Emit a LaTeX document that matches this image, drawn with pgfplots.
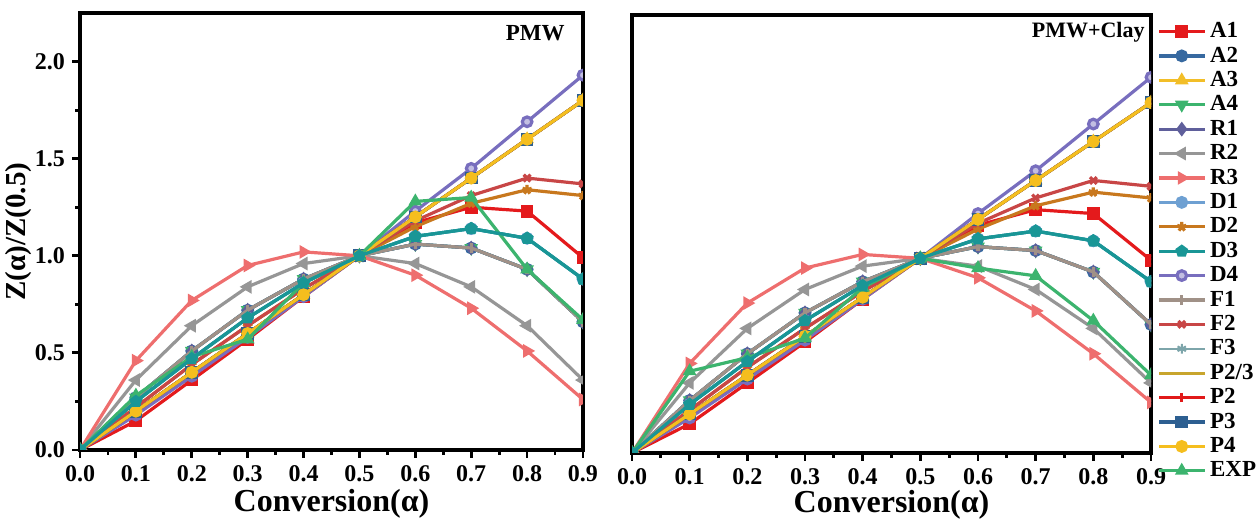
\documentclass[border=0pt]{standalone}
\usepackage{fontspec}
\setmainfont{Liberation Serif}
\usepackage{pgfplots}
\usepackage{pgfplotstable}
\pgfplotsset{compat=1.18}
\usetikzlibrary{plotmarks}

\definecolor{cA1}{RGB}{228,26,28}
\definecolor{cA2}{RGB}{55,105,160}
\definecolor{cA3}{RGB}{242,190,40}
\definecolor{cA4}{RGB}{60,180,110}
\definecolor{cR1}{RGB}{95,95,155}
\definecolor{cR2}{RGB}{150,150,150}
\definecolor{cR3}{RGB}{238,110,110}
\definecolor{cD1}{RGB}{110,160,210}
\definecolor{cD2}{RGB}{200,120,30}
\definecolor{cD3}{RGB}{25,150,150}
\definecolor{cD4}{RGB}{120,110,190}
\definecolor{cF1}{RGB}{160,145,135}
\definecolor{cF2}{RGB}{200,70,70}
\definecolor{cF3}{RGB}{125,165,170}
\definecolor{cP23}{RGB}{200,165,45}
\definecolor{cP2}{RGB}{225,25,25}
\definecolor{cP3}{RGB}{45,95,145}
\definecolor{cP4}{RGB}{245,190,30}
\definecolor{cEXP}{RGB}{60,180,110}

% theoretical master curves Z(a)/Z(0.5), same in both panels
\pgfplotstableread{
a   A1   A2   A3   A4   R1   R2   R3   D1   D2   D3   D4   F1   F2   F3   P23  P2   P3   P4
0.0 0    0    0    0    0    0    0    0    0    0    0    0    0    0    0    0    0    0
0.1 0.15 0.27 0.20 0.27 0.27 0.36 0.46 0.25 0.22 0.25 0.18 0.27 0.22 0.25 0.20 0.20 0.20 0.20
0.2 0.36 0.51 0.40 0.51 0.51 0.64 0.77 0.47 0.44 0.47 0.38 0.51 0.44 0.47 0.40 0.40 0.40 0.40
0.3 0.57 0.72 0.60 0.72 0.72 0.84 0.95 0.68 0.64 0.68 0.58 0.72 0.64 0.68 0.60 0.60 0.60 0.60
0.4 0.79 0.88 0.80 0.88 0.88 0.96 1.02 0.86 0.83 0.86 0.79 0.88 0.83 0.86 0.80 0.80 0.80 0.80
0.5 1.00 1.00 1.00 1.00 1.00 1.00 1.00 1.00 1.00 1.00 1.00 1.00 1.00 1.00 1.00 1.00 1.00 1.00
0.6 1.17 1.06 1.20 1.06 1.06 0.96 0.90 1.10 1.15 1.10 1.23 1.06 1.18 1.10 1.20 1.20 1.20 1.20
0.7 1.25 1.04 1.40 1.04 1.04 0.84 0.73 1.14 1.27 1.14 1.45 1.04 1.31 1.14 1.40 1.40 1.40 1.40
0.8 1.23 0.93 1.60 0.93 0.93 0.64 0.51 1.09 1.34 1.09 1.69 0.93 1.40 1.09 1.60 1.60 1.60 1.60
0.9 0.99 0.66 1.80 0.66 0.66 0.36 0.26 0.88 1.31 0.88 1.93 0.66 1.37 0.88 1.80 1.80 1.80 1.80
}\models

\pgfplotstableread{
a   EXP
0.0 0
0.1 0.28
0.2 0.48
0.3 0.57
0.4 0.86
0.5 1.00
0.6 1.28
0.7 1.30
0.8 0.93
0.9 0.67
}\exppmw

\pgfplotstableread{
a   EXP
0.0 0
0.1 0.42
0.2 0.49
0.3 0.59
0.4 0.85
0.5 1.00
0.6 0.95
0.7 0.91
0.8 0.68
0.9 0.40
}\expclay

\newcommand{\modelcurves}{%
  \addplot[cA1, mark=square*] table[x=a,y=A1] {\models};
  \addplot[cA2, mark=*] table[x=a,y=A2] {\models};
  \addplot[cA3, mark=triangle*] table[x=a,y=A3] {\models};
  \addplot[cA4, mark=triangle*, mark options={rotate=180}] table[x=a,y=A4] {\models};
  \addplot[cR1, mark=diamond*] table[x=a,y=R1] {\models};
  \addplot[cR2, mark=triangle*, mark options={rotate=90}] table[x=a,y=R2] {\models};
  \addplot[cR3, mark=triangle*, mark options={rotate=-90}] table[x=a,y=R3] {\models};
  \addplot[cD1, mark=*] table[x=a,y=D1] {\models};
  \addplot[cD2, mark=star] table[x=a,y=D2] {\models};
  \addplot[cD3, mark=pentagon*] table[x=a,y=D3] {\models};
  \addplot[cD4, mark=*, mark options={fill=cD4!45!white}] table[x=a,y=D4] {\models};
  \addplot[cF1, mark=|] table[x=a,y=F1] {\models};
  \addplot[cF2, mark=x] table[x=a,y=F2] {\models};
  \addplot[cF3, mark=asterisk, line width=1pt] table[x=a,y=F3] {\models};
  \addplot[cP23, no markers] table[x=a,y=P23] {\models};
  \addplot[cP2, mark=|] table[x=a,y=P2] {\models};
  \addplot[cP3, mark=square*] table[x=a,y=P3] {\models};
  \addplot[cP4, mark=*] table[x=a,y=P4] {\models};
}

\pgfplotsset{
  panel/.style={
    scale only axis,
    xmin=0, xmax=0.9, ymin=0, ymax=2.25,
    xtick={0,0.1,0.2,0.3,0.4,0.5,0.6,0.7,0.8,0.9},
    minor x tick num=1,
    tick align=outside, tick pos=left,
    major tick length=4pt, minor tick length=2.5pt,
    every tick/.style={black, line width=1.4pt},
    axis line style={line width=1.9pt},
    /pgf/number format/assume math mode=true,
    tick label style={font=\bfseries\fontsize{12}{14}\selectfont},
    xticklabel style={/pgf/number format/fixed, /pgf/number format/fixed zerofill, /pgf/number format/precision=1},
    yticklabel style={/pgf/number format/fixed, /pgf/number format/fixed zerofill, /pgf/number format/precision=1},
    xlabel style={font=\bfseries\fontsize{16}{18}\selectfont, inner sep=0pt},
    ylabel style={font=\bfseries\fontsize{14.5}{16}\selectfont},
    every axis plot/.append style={line width=1.6pt, mark size=2.4pt, mark options={solid}},
    clip marker paths=true,
    xlabel={Conversion(α)},
  },
}

\begin{document}
\begin{tikzpicture}
\useasboundingbox (0,0) rectangle (630pt,260pt);

\begin{axis}[panel,
  at={(40pt,35pt)}, anchor=south west,
  width=251.5pt, height=218.5pt,
  ytick={0,0.5,1,1.5,2}, minor y tick num=1,
  ylabel={Z(α)/Z(0.5)},
  xlabel style={at={(axis description cs:0.5,-0.122)}, anchor=center},
  ylabel style={at={(axis description cs:-0.123,0.5)}, anchor=center},
]
\modelcurves
\addplot[cEXP, mark=triangle*] table[x=a,y=EXP] {\exppmw};
\addplot[cD3, mark=pentagon*, forget plot] table[x=a,y=D3] {\models};
\node[font=\bfseries\fontsize{11.5}{13}\selectfont] at (rel axis cs:0.905,0.954) {PMW};
\end{axis}

\begin{axis}[panel,
  at={(316pt,33.5pt)}, anchor=south west,
  width=259.5pt, height=219pt,
  ytick=\empty,
  xlabel style={at={(axis description cs:0.5,-0.118)}, anchor=center},
  legend style={draw=none, fill=none, at={(1.0,1.0)}, anchor=north west,
    font=\bfseries\fontsize{11.5}{12}\selectfont, row sep=0.1pt,
    nodes={inner ysep=1.5pt}},
  legend cell align=left,
  legend image code/.code={\draw[mark repeat=2, mark phase=2] plot coordinates {(0cm,0cm) (0.4cm,0cm) (0.8cm,0cm)};},
]
\modelcurves
\addplot[cEXP, mark=triangle*] table[x=a,y=EXP] {\expclay};
\addplot[cD3, mark=pentagon*, forget plot] table[x=a,y=D3] {\models};
\node[font=\bfseries\fontsize{11}{13}\selectfont] at (rel axis cs:0.879,0.961) {PMW+Clay};
\legend{A1,A2,A3,A4,R1,R2,R3,D1,D2,D3,D4,F1,F2,F3,P2/3,P2,P3,P4,EXP}
\end{axis}
\end{tikzpicture}
\end{document}
